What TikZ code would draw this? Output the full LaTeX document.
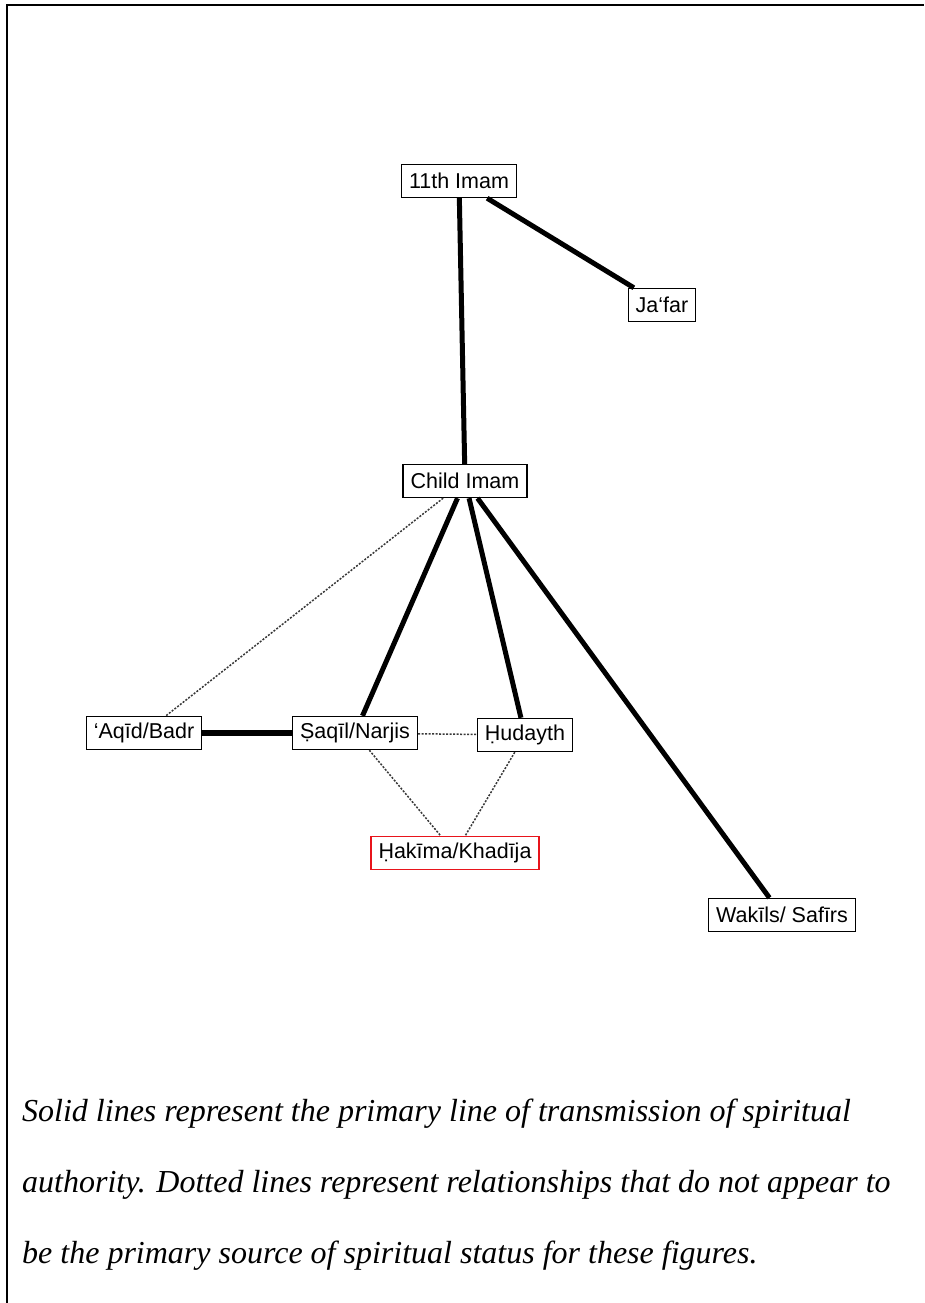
\documentclass[tikz,border=0pt]{standalone}
\usepackage{fontspec}
\setmainfont{Liberation Serif}
\newfontfamily\netfont{Liberation Sans}
\usetikzlibrary{positioning}
\definecolor{netInk}{HTML}{000000}
\definecolor{netRed}{HTML}{E8141B}
\definecolor{netDot}{HTML}{383838}
\tikzset{
  every picture/.style={text=netInk},
  net box/.style={draw=netInk, line width=1.4pt, fill=white, inner xsep=7.5pt,
    inner ysep=0pt, minimum height=33pt,
    font=\netfont\fontsize{21.5}{24}\selectfont},
  net focus/.style={net box, draw=netRed},
  net primary/.style={draw=netInk, line width=5pt},
  net strong/.style={draw=netInk, line width=6.5pt},
  net weak/.style={draw=netDot, line width=1.5pt, dash pattern=on 2pt off 1.5pt},
  net frame/.style={draw=netInk, line width=2pt},
  net note/.style={anchor=base west, inner sep=0pt,
    font=\itshape\fontsize{32}{36}\selectfont}
}

\begin{document}
\begin{tikzpicture}[x=1pt,y=-1pt]
  \useasboundingbox (0,0) rectangle (924,1303);
  \draw[net frame] (7,1303) -- (7,5) -- (924,5);
  % actors
  \node[net box] (imam) at (459,181) {11th Imam};
  \node[net box] (jafar) at (662,305) {Ja‘far};
  \node[net box] (child) at (465,481) {Child Imam};
  \node[net box] (aqid) at (144,733) {‘Aqīd/Badr};
  \node[net box] (saqil) at (355,733) {Ṣaqīl/Narjis};
  \node[net box] (hudayth) at (525,735) {Ḥudayth};
  \node[net focus] (hakima) at (455,853) {Ḥakīma/Khadīja};
  \node[net box] (wakil) at (782,915) {Wakīls/ Safīrs};
  % ties
  \draw[net primary] (imam) -- (child);
  \draw[net primary] (imam) -- (jafar);
  \draw[net primary] (child) -- (saqil);
  \draw[net primary] (child) -- (hudayth);
  \draw[net primary] (child) -- (wakil);
  \draw[net strong] (aqid) -- (saqil);
  \draw[net weak] (child) -- (aqid);
  \draw[net weak] (saqil) -- (hudayth);
  \draw[net weak] (saqil) -- (hakima);
  \draw[net weak] (hudayth) -- (hakima);
  % caption
  \node[net note] (note1) at (22,1121) {Solid lines represent the primary line of transmission of spiritual};
  \node[net note] (note2) at (22,1192) {authority. Dotted lines represent relationships that do not appear to};
  \node[net note] (note3) at (22,1263) {be the primary source of spiritual status for these figures.};
\end{tikzpicture}
\end{document}
